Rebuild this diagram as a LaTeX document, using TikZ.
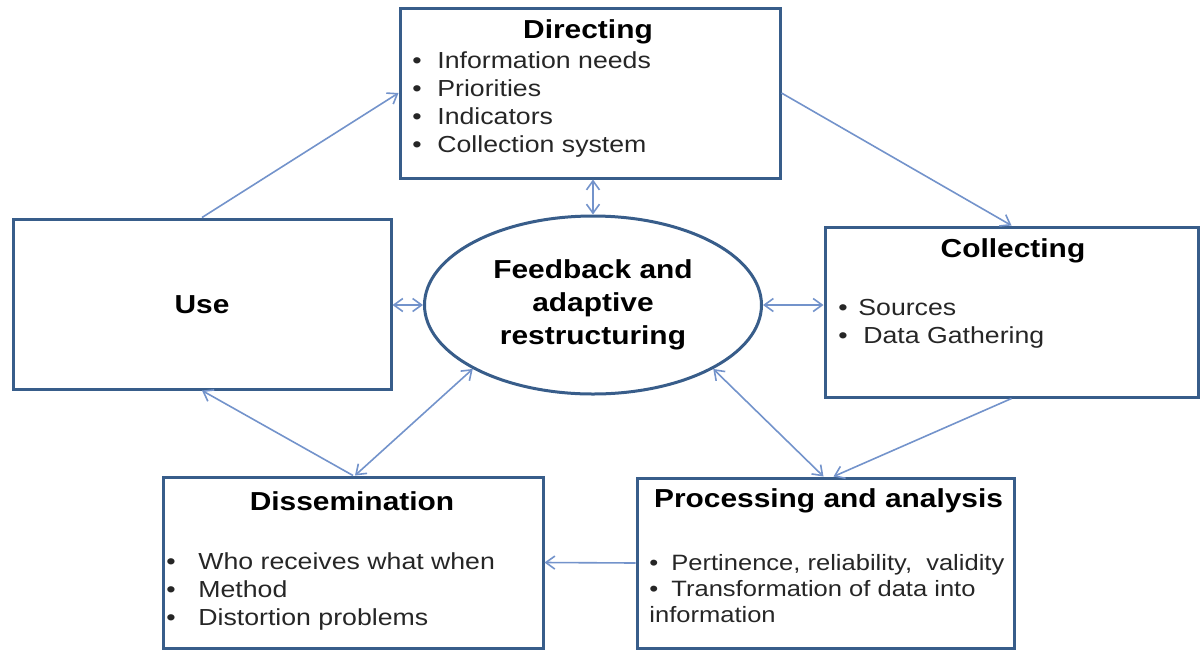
\documentclass[tikz,border=0pt]{standalone}
\usepackage{fontspec}
\setmainfont{Liberation Sans}[FakeStretch=1.15]
\usetikzlibrary{arrows.meta,shapes.geometric}
\definecolor{boxblue}{HTML}{385D8A}
\definecolor{linkblue}{HTML}{7393CB}
\definecolor{txtgray}{HTML}{262626}
\newcommand{\blt}[1][12.5pt]{\makebox[#1][l]{\textbullet}}

\begin{document}
\begin{tikzpicture}[x=0.5pt,y=-0.5pt,
    box/.style={draw=boxblue, line width=1.5pt, inner sep=0pt, minimum height=85pt},
    link/.style={draw=linkblue, line width=0.8pt},
    ttl/.style={font=\fontsize{13}{16}\selectfont\bfseries, text=black},
    lst/.style={anchor=north west, inner sep=0pt, align=left, text=txtgray,
      font=\fontsize{11.6}{14}\selectfont},
    >={Straight Barb[length=4.5pt,width=6.5pt]}]
  \useasboundingbox (0,0) rectangle (1201,650);

  \node[box, minimum width=190pt] (dir) at (590,93) {};
  \node[box, minimum width=189pt] (use) at (202,304) {};
  \node[box, minimum width=186.5pt] (col) at (1011.5,312) {};
  \node[box, minimum width=190pt, minimum height=85.5pt] (dis) at (353,562.5) {};
  \node[box, minimum width=188.5pt] (proc) at (825.5,563) {};
  \node[ellipse, draw=boxblue, line width=1.5pt, inner sep=0pt,
    minimum width=168.5pt, minimum height=89pt, align=center,
    font=\fontsize{13}{16.5}\selectfont\bfseries] (fb) at (593,305)
    {Feedback and\\adaptive\\restructuring};

  \node[ttl] (dirT) at (588,32) {Directing};
  \node[lst] (dirL) at (412,51) {\blt Information needs\\\blt Priorities\\
    \blt Indicators\\\blt Collection system};
  \node[ttl] (useT) at (202,305) {Use};
  \node[ttl] (colT) at (1013,251) {Collecting};
  \node[lst] (colL) at (838,299) {\blt[10pt]Sources\\\blt Data Gathering};
  \node[ttl] (disT) at (352,501) {Dissemination};
  \node[lst] (disL) at (166,552) {\blt[16pt]Who receives what when\\
    \blt[16pt]Method\\\blt[16pt]Distortion problems};
  \node[ttl, anchor=west] (procT) at (647,501) {Processing and analysis};
  \node[lst, font=\fontsize{11.1}{13}\selectfont] (procL) at (649,554)
    {\blt[11pt]Pertinence, reliability,\ \ validity\\
     \blt[11pt]Transformation of data into\\information};

  \draw[link,->] (use.north) -- (dir.west);
  \draw[link,->] (dir.east) -- (col.north);
  \draw[link,->] (col.south) -- ([xshift=4pt]proc.north);
  \draw[link,->] (proc.west) -- (dis.east);
  \draw[link,->] (dis.north) -- (use.south);
  \draw[link,<->] (fb.north) -- (fb.north |- dir.south);
  \draw[link,<->] (fb.west) -- (fb.west -| use.east);
  \draw[link,<->] (fb.east) -- (fb.east -| col.west);
  \draw[link,<->] (fb.-28) -- ([xshift=-1pt]proc.north);
  \draw[link,<->] (fb.208) -- ([xshift=1pt]dis.north);
\end{tikzpicture}
\end{document}
